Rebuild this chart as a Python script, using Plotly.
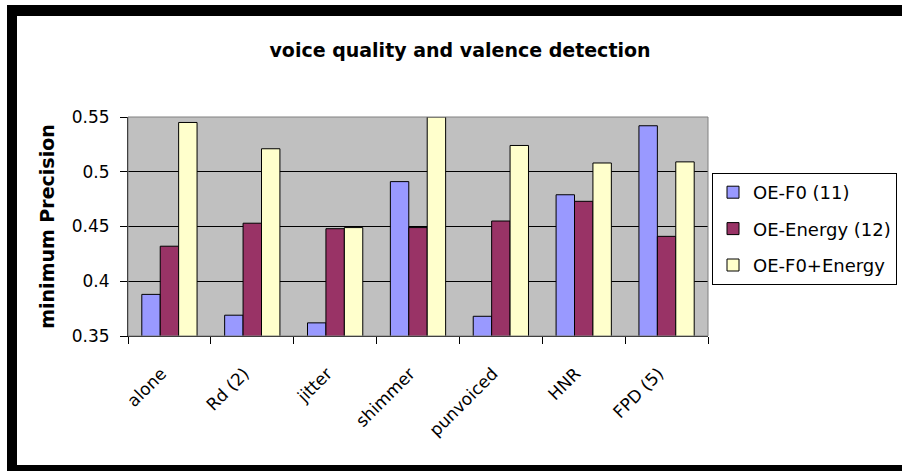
import plotly.graph_objects as go

categories = ["alone", "Rd (2)", "jitter", "shimmer", "punvoiced", "HNR", "FPD (5)"]
oe_f0 = [0.388, 0.369, 0.362, 0.491, 0.368, 0.479, 0.542]
oe_energy = [0.432, 0.453, 0.448, 0.449, 0.455, 0.473, 0.441]
oe_f0_energy = [0.545, 0.521, 0.449, 0.550, 0.524, 0.508, 0.509]
series_names = ["OE-F0 (11)", "OE-Energy (12)", "OE-F0+Energy"]
series_colors = ["#9999FF", "#993366", "#FFFFCC"]
y_ticks = [0.35, 0.4, 0.45, 0.5, 0.55]
y_tick_text = ["0.35", "0.4", "0.45", "0.5", "0.55"]

FONT = "DejaVu Sans"
W, H = 902, 471
L, R, T, B = 128, 194, 117, 135
PW, PH = W - L - R, H - T - B

def px(x):
    return (x - L) / PW

def py(y):
    return (H - B - y) / PH

fig = go.Figure()
for name, vals, col in zip(series_names, [oe_f0, oe_energy, oe_f0_energy], series_colors):
    fig.add_trace(go.Bar(
        x=categories, y=vals, name=name, legendgroup=name,
        marker=dict(color=col, line=dict(color="black", width=1)),
    ))

shapes = [
    # plot area border (gray)
    dict(type="rect", xref="paper", yref="paper", x0=0, x1=1, y0=0, y1=1,
         line=dict(color="#808080", width=1), layer="above"),
    # black frame bands
    dict(type="rect", xref="paper", yref="paper", x0=px(7), x1=px(905), y0=py(16), y1=py(5),
         fillcolor="black", line=dict(width=0)),
    dict(type="rect", xref="paper", yref="paper", x0=px(7), x1=px(17), y0=py(474), y1=py(5),
         fillcolor="black", line=dict(width=0)),
    dict(type="rect", xref="paper", yref="paper", x0=px(7), x1=px(905), y0=py(474), y1=py(465),
         fillcolor="black", line=dict(width=0)),
]

fig.update_layout(
    width=W, height=H,
    margin=dict(l=L, r=R, t=T, b=B, pad=0, autoexpand=False),
    paper_bgcolor="white",
    plot_bgcolor="#C0C0C0",
    barmode="group",
    bargap=0.333,
    bargroupgap=0,
    font=dict(family=FONT, color="black", size=17),
    title=dict(text="<b>voice quality and valence detection</b>",
               x=460 / W, xref="container", xanchor="center",
               y=1 - 50 / H, yref="container", yanchor="middle",
               font=dict(family=FONT, size=19, color="black")),
    showlegend=True,
    legend=dict(x=px(712), y=py(173), xanchor="left", yanchor="top",
                xref="paper", yref="paper",
                bgcolor="white", bordercolor="black", borderwidth=1,
                font=dict(family=FONT, size=18, color="black"),
                traceorder="grouped", tracegroupgap=10, itemwidth=30),
    shapes=shapes,
)

fig.update_xaxes(
    type="category", showgrid=False, showline=True, linecolor="black", linewidth=1,
    ticks="outside", tickson="boundaries", ticklen=7, tickcolor="black",
    tickangle=-45, tickfont=dict(family=FONT, size=17, color="black"),
    ticklabelstandoff=20, ticklabelshift=-8,
    zeroline=False, mirror=False,
)
fig.update_yaxes(
    range=[0.35, 0.55], tickvals=y_ticks, ticktext=y_tick_text,
    showgrid=True, gridcolor="black", gridwidth=1,
    showline=True, linecolor="black", linewidth=1,
    ticks="outside", ticklen=7, tickcolor="black",
    tickfont=dict(family=FONT, size=17, color="black"),
    ticklabelstandoff=7,
    zeroline=False,
    title=dict(text="<b>minimum Precision</b>", font=dict(family=FONT, size=19, color="black"),
               standoff=12),
)

fig.write_html(
    "out.html",
    config={"displayModeBar": False},
    post_script="document.body.style.margin='0';document.body.style.overflow='hidden';",
)
